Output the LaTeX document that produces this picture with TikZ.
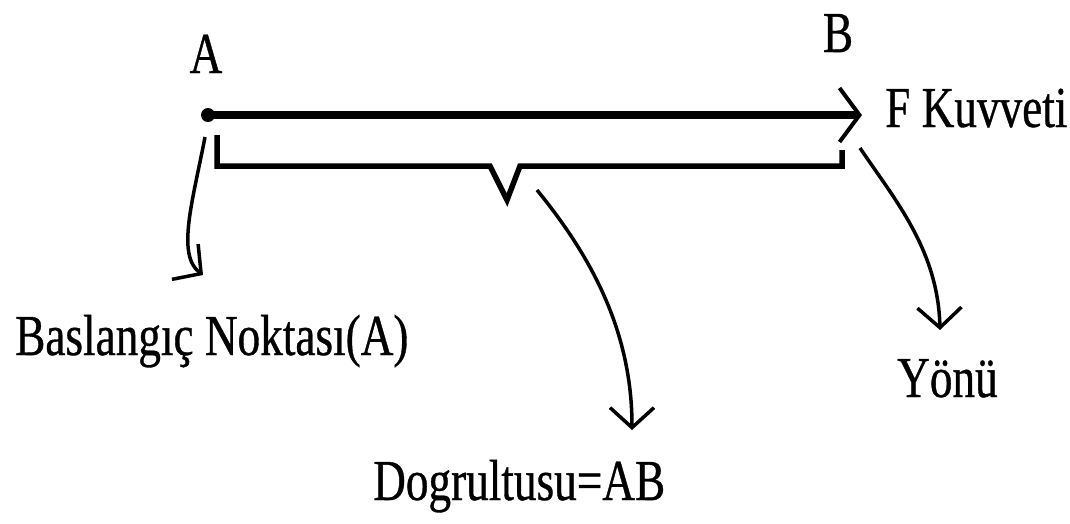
\documentclass[tikz,border=0pt]{standalone}
\usepackage{fontspec}
\setmainfont{Liberation Serif}[FakeStretch=0.78,FakeBold=0.6]
\usetikzlibrary{arrows.meta}
\begin{document}
\begin{tikzpicture}[x=1pt,y=-1pt,
  lbl/.style={inner sep=0pt,font=\fontsize{58}{60}\selectfont},
  shaft/.style={line width=8pt},
  curvearrow/.style={line width=3.5pt,-{Straight Barb[length=20pt,width=44pt,line width=3.5pt]}},
  bracket/.style={line width=5.5pt,line join=miter}]
\useasboundingbox[fill=white] (0,0) rectangle (1070,523);
% labels
\node[lbl,anchor=base] (lA) at (206,73) {A};
\node[lbl,anchor=base] (lB) at (838,52) {B};
\node[lbl,anchor=base west] (force) at (885,127) {F Kuvveti};
\node[lbl,anchor=base west] (start) at (15,355) {Baslangıç Noktası(A)};
\node[lbl,anchor=base west] (dir) at (373,500) {Dogrultusu=AB};
\node[lbl,anchor=base west] (sense) at (897,397) {Yönü};
% key points
\coordinate (dot) at (208,115);
\coordinate (tipF) at (862,115);
\coordinate (s1) at (205,137);
\coordinate (t1) at (203,275);
\coordinate (s2) at (537,190);
\coordinate (t2) at (632,430);
\coordinate (s3) at (860,148);
\coordinate (t3) at (940,330);
% dot and main arrow
\fill (dot) circle[radius=7pt];
\draw[shaft,-{Straight Barb[length=20pt,width=54pt,line width=4pt]}] (dot) -- (tipF);
% bracket
\draw[bracket] (217,135) -- (217,166) -- (490,166) -- (507,200) -- (520,166) -- (842,166) -- (842,150);
% curved arrows
\draw[curvearrow] (s1) .. controls (193,200) and (176,255) .. (t1);
\draw[curvearrow] (s2) .. controls (590,255) and (632,330) .. (t2);
\draw[curvearrow] (s3) .. controls (895,200) and (938,250) .. (t3);
\end{tikzpicture}
\end{document}
